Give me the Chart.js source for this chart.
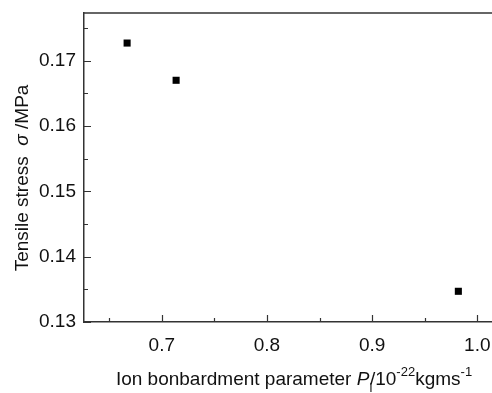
<!DOCTYPE html>
<html>
<head>
<meta charset="utf-8">
<script src="https://cdn.jsdelivr.net/npm/chart.js@4/dist/chart.umd.min.js"></script>
<style>
  html, body { margin: 0; padding: 0; background: #fff; overflow: hidden; }
  #wrap { width: 492px; height: 393px; }
  canvas { display: block; }
</style>
</head>
<body>
<div id="wrap"><canvas id="stressChart"></canvas></div>
<script>
// data
const ionParam = [0.667, 0.7136, 0.982];
const tensileStress = [0.1727, 0.1670, 0.1347];
const xTicks = [0.7, 0.8, 0.9, 1.0];
const yTicks = [0.13, 0.14, 0.15, 0.16, 0.17];
const xMinorTicks = [0.65, 0.75, 0.85, 0.95];
const yMinorTicks = [0.135, 0.145, 0.155, 0.165, 0.175];

const axisColor = '#333';
const fontFamily = '"Liberation Sans", Arial, sans-serif';

// draws a line of text made of several styled pieces
const drawRich = (ctx, parts, x, y) => {
  let cx = x;
  parts.forEach(p => {
    ctx.font = (p.italic ? 'italic ' : '') + p.size + 'px ' + fontFamily;
    ctx.fillText(p.text, cx, y + (p.dy || 0));
    cx += ctx.measureText(p.text).width * (p.advance === undefined ? 1 : p.advance);
  });
};

const richWidth = (ctx, parts) => {
  let w = 0;
  parts.forEach(p => {
    ctx.font = (p.italic ? 'italic ' : '') + p.size + 'px ' + fontFamily;
    w += ctx.measureText(p.text).width * (p.advance === undefined ? 1 : p.advance);
  });
  return w;
};

const xTitle = [
  { text: 'Ion bonbardment parameter ', size: 19 },
  { text: 'P', size: 19, italic: true },
  { text: 'i', size: 13, dy: 7, advance: 0.2 },
  { text: '/10', size: 19 },
  { text: '-22', size: 13, dy: -9 },
  { text: 'kgms', size: 19 },
  { text: '-1', size: 13, dy: -9 }
];

const yTitle = [
  { text: 'Tensile stress  ', size: 19 },
  { text: 'σ', size: 19, italic: true },
  { text: ' /MPa', size: 19 }
];

const framePlugin = {
  id: 'frame',
  afterDraw(chart) {
    const ctx = chart.ctx;
    const area = chart.chartArea;
    const xs = chart.scales.x;
    const ys = chart.scales.y;
    ctx.save();
    ctx.strokeStyle = axisColor;
    ctx.lineWidth = 1.5;
    // top border
    ctx.beginPath();
    ctx.moveTo(area.left, area.top);
    ctx.lineTo(area.right, area.top);
    ctx.stroke();
    // inward ticks
    ctx.lineWidth = 1.2;
    ctx.beginPath();
    xTicks.forEach(v => {
      const px = Math.round(xs.getPixelForValue(v)) + 0.5;
      ctx.moveTo(px, area.bottom);
      ctx.lineTo(px, area.bottom - 7);
    });
    xMinorTicks.forEach(v => {
      const px = Math.round(xs.getPixelForValue(v)) + 0.5;
      ctx.moveTo(px, area.bottom);
      ctx.lineTo(px, area.bottom - 4);
    });
    yTicks.forEach(v => {
      const py = Math.round(ys.getPixelForValue(v)) + 0.5;
      ctx.moveTo(area.left, py);
      ctx.lineTo(area.left + 7, py);
    });
    yMinorTicks.forEach(v => {
      const py = Math.round(ys.getPixelForValue(v)) + 0.5;
      ctx.moveTo(area.left, py);
      ctx.lineTo(area.left + 4, py);
    });
    ctx.stroke();

    // axis titles
    ctx.fillStyle = '#111';
    ctx.textBaseline = 'alphabetic';
    ctx.textAlign = 'left';
    const xw = richWidth(ctx, xTitle);
    drawRich(ctx, xTitle, 294 - xw / 2, 385);

    ctx.translate(28, 178);
    ctx.rotate(-Math.PI / 2);
    const yw = richWidth(ctx, yTitle);
    drawRich(ctx, yTitle, -yw / 2, 0);
    ctx.restore();
  }
};

const ctx = document.getElementById('stressChart').getContext('2d');
new Chart(ctx, {
  type: 'scatter',
  data: {
    datasets: [{
      data: ionParam.map((x, i) => ({ x: x, y: tensileStress[i] })),
      pointStyle: 'rect',
      pointRadius: 5,
      pointHoverRadius: 5,
      backgroundColor: '#000',
      borderColor: '#000',
      borderWidth: 0
    }]
  },
  options: {
    responsive: true,
    maintainAspectRatio: false,
    animation: false,
    layout: { autoPadding: false, padding: { top: 13, right: 0, left: 0, bottom: 0 } },
    plugins: {
      legend: { display: false },
      tooltip: { enabled: false }
    },
    scales: {
      x: {
        type: 'linear',
        min: 0.626,
        max: 1.014,
        afterBuildTicks: scale => { scale.ticks = xTicks.map(v => ({ value: v })); },
        afterFit: scale => {
          scale.height = 71;
          scale.paddingLeft = 0;
          scale.paddingRight = 0;
        },
        grid: { display: false, drawTicks: false },
        border: { display: true, color: axisColor, width: 1.5 },
        ticks: {
          padding: 12,
          color: '#111',
          font: { family: fontFamily, size: 19 },
          callback: v => v.toFixed(1)
        }
      },
      y: {
        type: 'linear',
        min: 0.13,
        max: 0.1773,
        afterBuildTicks: scale => { scale.ticks = yTicks.map(v => ({ value: v })); },
        afterFit: scale => {
          scale.width = 84;
          scale.paddingTop = 0;
          scale.paddingBottom = 0;
        },
        grid: { display: false, drawTicks: false },
        border: { display: true, color: axisColor, width: 1.5 },
        ticks: {
          padding: 8,
          color: '#111',
          font: { family: fontFamily, size: 19 },
          callback: v => v.toFixed(2)
        }
      }
    }
  },
  plugins: [framePlugin]
});
</script>
</body>
</html>
